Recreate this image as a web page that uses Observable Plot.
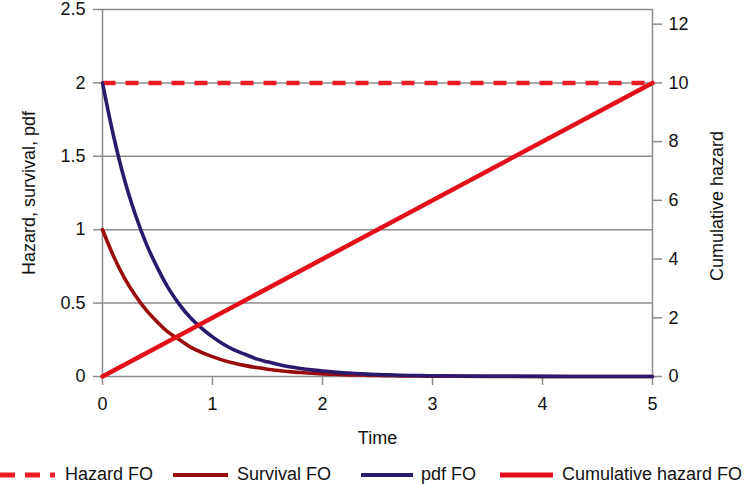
<!DOCTYPE html>
<html>
<head>
<meta charset="utf-8">
<script src="https://cdn.jsdelivr.net/npm/d3@7"></script>
<script src="https://cdn.jsdelivr.net/npm/@observablehq/plot@0.6"></script>
<style>
  body { margin: 0; background: white; font-family: "Liberation Sans", Arial, sans-serif; }
  #chart svg { display: block; }
  #legend { position: relative; width: 750px; height: 33px; margin-top: 6px; font-size: 18px; color: #111; }
  .item { position: absolute; top: 0; height: 33px; display: flex; align-items: center; }
  .item span { white-space: nowrap; }
</style>
</head>
<body>
<div id="chart"></div>
<div id="legend"></div>
<script>
// Data
const time = [0,0.1,0.2,0.3,0.4,0.5,0.6,0.7,0.8,0.9,1.0,1.1,1.2,1.3,1.4,1.5,1.6,1.7,1.8,1.9,2.0,2.1,2.2,2.3,2.4,2.5,2.6,2.7,2.8,2.9,3.0,3.5,4.0,4.5,5.0];
const survival = [1.00,0.82,0.67,0.55,0.45,0.37,0.30,0.25,0.20,0.165,0.135,0.11,0.09,0.074,0.061,0.05,0.041,0.033,0.027,0.022,0.018,0.015,0.012,0.010,0.008,0.007,0.0055,0.0045,0.0037,0.003,0.0025,0.001,0.0003,0.0001,0.00005];
const pdf = [2.00,1.64,1.34,1.10,0.90,0.74,0.60,0.49,0.40,0.33,0.27,0.22,0.18,0.15,0.12,0.10,0.082,0.067,0.055,0.045,0.037,0.030,0.025,0.020,0.016,0.013,0.011,0.009,0.007,0.006,0.005,0.002,0.0007,0.0002,0.0001];
const hazardTime = [0, 5];
const hazard = [2, 2];
const cumTime = [0, 5];
const cumHazard = [0, 10];

const xTicks = [0,1,2,3,4,5];
const leftTicks = [0,0.5,1,1.5,2,2.5];
const rightTicks = [0,2,4,6,8,10,12];
const leftMax = 2.5, rightMax = 12.5;
const toLeft = v => v * leftMax / rightMax;

const seriesNames = ["Hazard FO","Survival FO","pdf FO","Cumulative hazard FO"];
const colors = {"Hazard FO":"#ec1c24","Survival FO":"#9a0c0c","pdf FO":"#2b1a6b","Cumulative hazard FO":"#e3101a"};

const survData = time.map((t,i) => ({t, v: survival[i]}));
const pdfData = time.map((t,i) => ({t, v: pdf[i]}));
const hazData = hazardTime.map((t,i) => ({t, v: hazard[i]}));
const cumData = cumTime.map((t,i) => ({t, v: toLeft(cumHazard[i])}));

const grid = "#8c8c8c";

const chart = Plot.plot({
  width: 750,
  height: 452,
  marginLeft: 102,
  marginRight: 98,
  marginTop: 9,
  marginBottom: 76,
  style: {fontFamily: "'Liberation Sans', Arial, sans-serif", fontSize: "18px", color: "#111", background: "white"},
  x: {domain: [0, 5]},
  y: {domain: [0, leftMax]},
  marks: [
    Plot.gridY(leftTicks, {stroke: grid, strokeOpacity: 1, strokeWidth: 1.5}),
    Plot.ruleX([0, 5], {stroke: grid, strokeWidth: 1.5}),
    Plot.axisY({ticks: leftTicks, tickSize: 9, tickPadding: 8, stroke: grid, strokeWidth: 1.5, strokeOpacity: 1,
      tickFormat: d => String(d), label: "Hazard, survival, pdf", labelAnchor: "center", labelArrow: false, labelOffset: 80}),
    Plot.axisY({anchor: "right", ticks: rightTicks.map(toLeft), tickSize: 9, tickPadding: 7, stroke: grid, strokeWidth: 1.5, strokeOpacity: 1,
      tickFormat: d => String(Math.round(d * rightMax / leftMax)), label: null}),
    Plot.text(["Cumulative hazard"], {frameAnchor: "right", dx: 70, dy: 13, rotate: -90, textAnchor: "middle", lineAnchor: "bottom", fontSize: 18, fill: "#111"}),
    Plot.axisX({ticks: xTicks, tickSize: 9, tickPadding: 12, stroke: grid, strokeWidth: 1.5, strokeOpacity: 1,
      tickFormat: d => String(d), label: "Time", labelAnchor: "center", labelArrow: false, labelOffset: 67}),
    Plot.line(hazData, {x: "t", y: "v", stroke: colors["Hazard FO"], strokeWidth: 4.5, strokeDasharray: "13,10", strokeLinecap: "butt"}),
    Plot.line(survData, {x: "t", y: "v", stroke: colors["Survival FO"], strokeWidth: 3.6, curve: "monotone-x"}),
    Plot.line(pdfData, {x: "t", y: "v", stroke: colors["pdf FO"], strokeWidth: 3.6, curve: "monotone-x"}),
    Plot.line(cumData, {x: "t", y: "v", stroke: colors["Cumulative hazard FO"], strokeWidth: 4.5})
  ]
});
document.getElementById("chart").appendChild(chart);

// Legend
const legendPos = [
  {swatchX: 0, swatchW: 55, textX: 65, dash: "15,10"},
  {swatchX: 173, swatchW: 55, textX: 237, dash: null},
  {swatchX: 361, swatchW: 52, textX: 421, dash: null},
  {swatchX: 500, swatchW: 53, textX: 562, dash: null}
];
const legend = document.getElementById("legend");
seriesNames.forEach((name, i) => {
  const p = legendPos[i];
  const sw = document.createElement("div");
  sw.className = "item";
  sw.style.left = p.swatchX + "px";
  sw.innerHTML = `<svg width="${p.swatchW}" height="8"><line x1="0" y1="4" x2="${p.swatchW}" y2="4" stroke="${colors[name]}" stroke-width="${i===1||i===2?4:5}" ${p.dash ? `stroke-dasharray="${p.dash}"` : ""}/></svg>`;
  legend.appendChild(sw);
  const tx = document.createElement("div");
  tx.className = "item";
  tx.style.left = p.textX + "px";
  tx.innerHTML = `<span>${name}</span>`;
  legend.appendChild(tx);
});
</script>
</body>
</html>
